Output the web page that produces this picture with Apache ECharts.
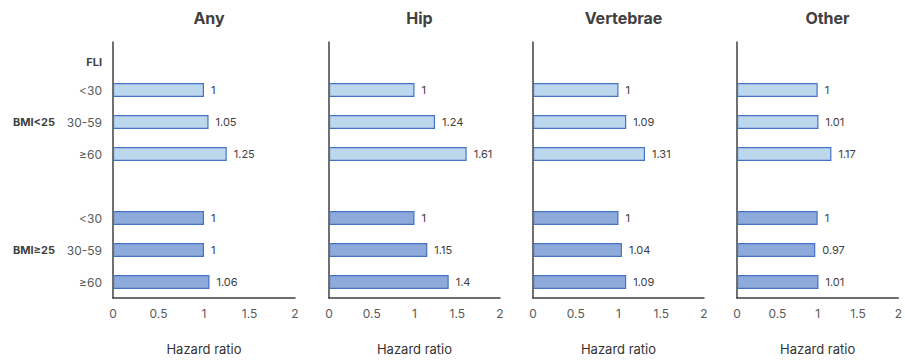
<!DOCTYPE html>
<html>
<head>
<meta charset="utf-8">
<script src="https://cdn.jsdelivr.net/npm/echarts@6/dist/echarts.min.js"></script>
<style>
html,body{margin:0;padding:0;background:#fff;}
#chart{width:905px;height:360px;}
</style>
</head>
<body>
<div id="chart"></div>
<script>
// ---- data ----
var categories = ['FLI', '<30', '30-59', '≥60', '', '<30', '30-59', '≥60'];
var groupLabels = ['', '', 'BMI<25', '', '', '', 'BMI≥25', ''];
var panelTitles = ['Any', 'Hip', 'Vertebrae', 'Other'];
var xTicks = [0, 0.5, 1, 1.5, 2];
// hazard ratios, BMI<25 then BMI≥25 (FLI <30, 30-59, ≥60)
var anyLow = [1, 1.05, 1.25];
var anyHigh = [1, 1, 1.06];
var hipLow = [1, 1.24, 1.61];
var hipHigh = [1, 1.15, 1.4];
var vertLow = [1, 1.09, 1.31];
var vertHigh = [1, 1.04, 1.09];
var otherLow = [1, 1.01, 1.17];
var otherHigh = [1, 0.97, 1.01];
var panelValues = [[anyLow, anyHigh], [hipLow, hipHigh], [vertLow, vertHigh], [otherLow, otherHigh]];

// ---- layout ----
var gridLeft = [113, 329, 533, 737];
var gridWidth = [182, 171, 171, 171];
var TOP = 42, HEIGHT = 265;
var lightFill = '#bdd7ee', darkFill = '#8eaadb', borderCol = '#4472c4';
var axisCol = '#3f3f3f';
var FONT = 'Inter, "Liberation Sans", Arial, sans-serif';

function buildData(low, high) {
  var d = ['-'];
  low.forEach(function (v) { d.push({ value: v, itemStyle: { color: lightFill } }); });
  d.push('-');
  high.forEach(function (v) { d.push({ value: v, itemStyle: { color: darkFill } }); });
  return d;
}

var grids = [], xAxes = [], yAxes = [], series = [], titles = [];
panelTitles.forEach(function (t, i) {
  grids.push({ left: gridLeft[i], width: gridWidth[i], top: TOP, height: HEIGHT, containLabel: false });
  titles.push({
    text: t, left: gridLeft[i] + gridWidth[i] / 2, top: 5, textAlign: 'center',
    textStyle: { fontFamily: FONT, fontSize: 16, fontWeight: 'bold', color: '#404040' }
  });
  xAxes.push({
    type: 'value', gridIndex: i, min: xTicks[0], max: xTicks[xTicks.length - 1], interval: 0.5,
    axisLine: { show: true, lineStyle: { color: axisCol, width: 1.5 } },
    axisTick: { show: false }, splitLine: { show: false },
    axisLabel: { color: '#595959', fontSize: 12, margin: 9, fontFamily: FONT,
      showMaxLabel: true, formatter: function (v) { return String(v); } },
    name: 'Hazard ratio', nameLocation: 'middle', nameGap: 44,
    nameTextStyle: { color: '#333', fontSize: 13, fontFamily: FONT }
  });
  yAxes.push({
    type: 'category', gridIndex: i, data: categories, inverse: true,
    axisLine: { show: true, lineStyle: { color: axisCol, width: 1.5 } },
    axisTick: { show: false },
    axisLabel: {
      show: i === 0, color: '#595959', fontSize: 12, margin: 11, fontFamily: FONT,
      formatter: function (v, idx) { return idx === 0 ? '{b|' + v + '}' : v; },
      rich: { b: { fontWeight: 'bold', fontSize: 11, color: '#404040', fontFamily: FONT, padding: [8, 0, 0, 0] } }
    }
  });
  series.push({
    type: 'bar', xAxisIndex: i, yAxisIndex: i, barWidth: 14,
    data: buildData(panelValues[i][0], panelValues[i][1]),
    itemStyle: { borderColor: borderCol, borderWidth: 1.2 },
    label: { show: true, position: 'right', distance: 7, color: '#404040', fontSize: 11, fontFamily: FONT },
    silent: true, animation: false
  });
});
// group labels axis on first grid
yAxes.push({
  type: 'category', gridIndex: 0, data: groupLabels, inverse: true, position: 'left', offset: 58,
  axisLine: { show: false }, axisTick: { show: false },
  axisLabel: { color: '#404040', fontSize: 11, fontWeight: 'bold', margin: 0, fontFamily: FONT, interval: 0 }
});

var chart = echarts.init(document.getElementById('chart'), null, { renderer: 'svg' });
chart.setOption({
  backgroundColor: '#ffffff',
  animation: false,
  title: titles,
  grid: grids,
  xAxis: xAxes,
  yAxis: yAxes,
  series: series
});
</script>
</body>
</html>
